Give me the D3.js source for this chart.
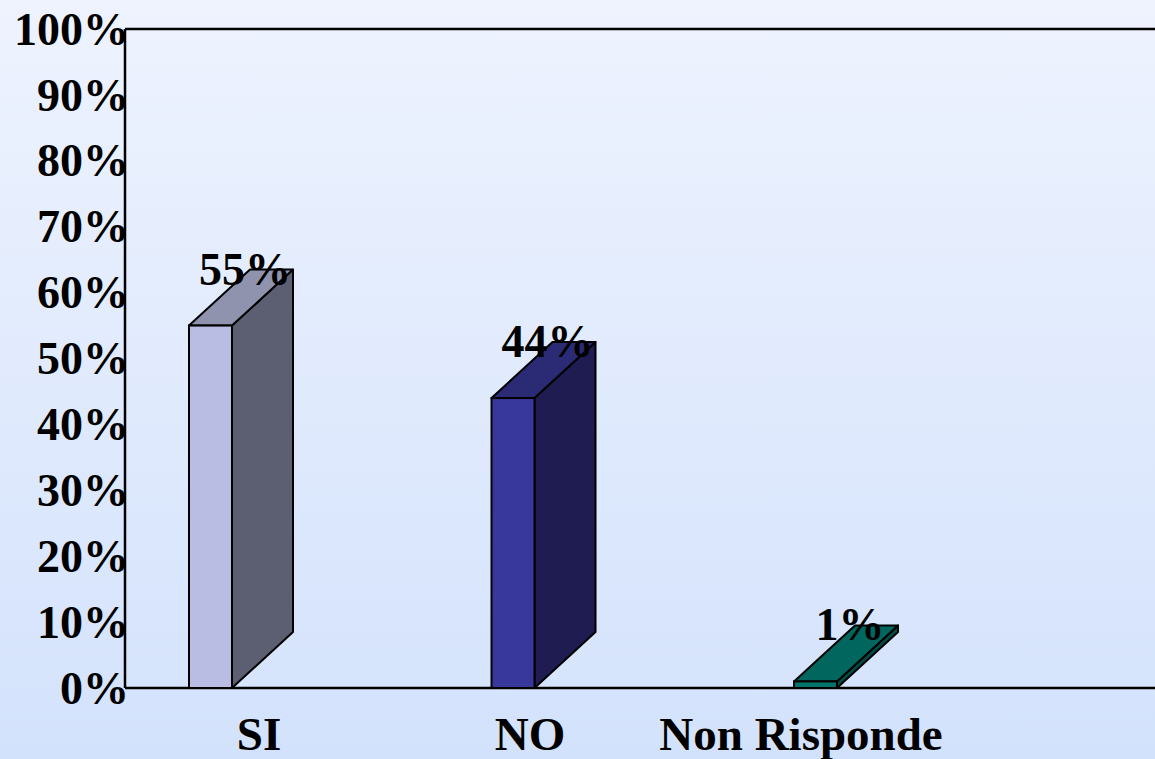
<!DOCTYPE html>
<html>
<head>
<meta charset="utf-8">
<script src="https://cdn.jsdelivr.net/npm/d3@7"></script>
<style>
  html, body { margin: 0; padding: 0; }
  body { width: 1155px; height: 759px; overflow: hidden; }
  text { font-family: "Liberation Serif", "Times New Roman", serif; font-weight: bold; fill: #000; }
</style>
</head>
<body>
<div class="chart"></div>
<script>
const categories = ["SI", "NO", "Non Risponde"];
const values = [55, 44, 1];
const tickValues = [0, 10, 20, 30, 40, 50, 60, 70, 80, 90, 100];

// colours per bar: front, top, side
const colors = [
  { front: "#b9bde3", top: "#8f93ae", side: "#5c5f72" },
  { front: "#38379b", top: "#2b2a74", side: "#1e1c50" },
  { front: "#00736a", top: "#00665e", side: "#004c46" },
];

const width = 1155;
const height = 759;
const plotLeft = 125;
const plotTop = 29;
const plotBottom = 688;
const barW = 43;
const depthX = 61;
const depthY = 56;

let svg = d3.select(".chart").append("svg").attr("width", width).attr("height", height);

// background gradient
let defs = svg.append("defs");
let grad = defs.append("linearGradient").attr("id", "bg").attr("x1", 0).attr("y1", 0).attr("x2", 0).attr("y2", 1);
grad.append("stop").attr("offset", "0%").attr("stop-color", "#eef3fe");
grad.append("stop").attr("offset", "100%").attr("stop-color", "#d3e2fc");
svg.append("rect").attr("width", width).attr("height", height).attr("fill", "url(#bg)");

const yScale = d3.scaleLinear().domain([0, 100]).range([plotBottom, plotTop]);

const xScale = d3.scaleBand().domain(categories).range([plotLeft, plotLeft + 3 * 302.5]);

const labelScale = d3.scalePoint().domain(categories).range([259, 801]);

// frame lines
svg.append("line").attr("x1", plotLeft).attr("x2", width).attr("y1", plotTop).attr("y2", plotTop)
  .attr("stroke", "#000").attr("stroke-width", 2.5);
svg.append("line").attr("x1", plotLeft).attr("x2", width).attr("y1", plotBottom).attr("y2", plotBottom)
  .attr("stroke", "#000").attr("stroke-width", 2.5);
svg.append("line").attr("x1", plotLeft).attr("x2", plotLeft).attr("y1", plotTop).attr("y2", plotBottom)
  .attr("stroke", "#000").attr("stroke-width", 2.5);

// bars
let bars = svg.selectAll("g.bar")
  .data(values)
  .enter()
  .append("g")
  .attr("class", "bar");

bars.each(function (d, i) {
  let g = d3.select(this);
  let x = xScale(categories[i]) + 64;
  let y = yScale(d);
  let c = colors[i];
  g.append("polygon")
    .attr("points", [[x + barW, y], [x + barW + depthX, y - depthY], [x + barW + depthX, plotBottom - depthY], [x + barW, plotBottom]].join(" "))
    .attr("fill", c.side).attr("stroke", "#000").attr("stroke-width", 2).attr("stroke-linejoin", "round");
  g.append("polygon")
    .attr("points", [[x, y], [x + depthX, y - depthY], [x + barW + depthX, y - depthY], [x + barW, y]].join(" "))
    .attr("fill", c.top).attr("stroke", "#000").attr("stroke-width", 2).attr("stroke-linejoin", "round");
  g.append("rect")
    .attr("x", x).attr("y", y).attr("width", barW).attr("height", plotBottom - y)
    .attr("fill", c.front).attr("stroke", "#000").attr("stroke-width", 2);
});

// value labels
svg.selectAll("text.value")
  .data(values)
  .enter()
  .append("text")
  .attr("class", "value")
  .attr("x", (d, i) => xScale(categories[i]) + 64 + barW / 2 + depthX / 2 + 4)
  .attr("y", (d) => yScale(d) - 41)
  .attr("text-anchor", "middle")
  .style("font-size", "46px")
  .text((d) => d + "%");

// y tick labels
svg.selectAll("text.tick")
  .data(tickValues)
  .enter()
  .append("text")
  .attr("class", "tick")
  .attr("x", plotLeft + 4)
  .attr("y", (d) => yScale(d))
  .attr("dy", "0.34em")
  .attr("text-anchor", "end")
  .style("font-size", "46px")
  .text((d) => d + "%");

// category labels
svg.selectAll("text.cat")
  .data(categories)
  .enter()
  .append("text")
  .attr("class", "cat")
  .attr("x", (d) => labelScale(d))
  .attr("y", 750)
  .attr("text-anchor", "middle")
  .style("font-size", "47px")
  .text((d) => d);
</script>
</body>
</html>
